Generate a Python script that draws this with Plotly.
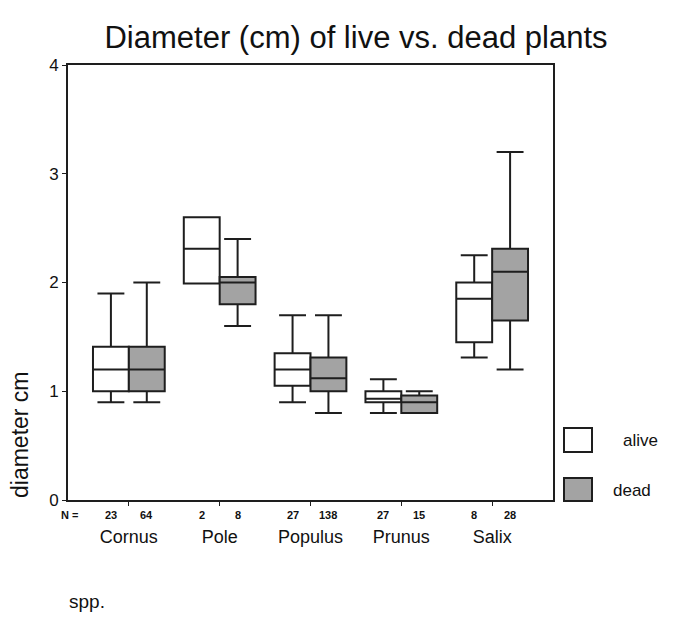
import plotly.graph_objects as go

categories = ["Cornus", "Pole", "Populus", "Prunus", "Salix"]

alive_low = [0.90, 1.99, 0.90, 0.80, 1.31]
alive_q1 = [1.00, 1.99, 1.05, 0.90, 1.45]
alive_med = [1.20, 2.31, 1.20, 0.93, 1.85]
alive_q3 = [1.41, 2.60, 1.35, 1.00, 2.00]
alive_high = [1.90, 2.60, 1.70, 1.11, 2.25]
alive_n = [23, 2, 27, 27, 8]

dead_low = [0.90, 1.60, 0.80, 0.80, 1.20]
dead_q1 = [1.00, 1.80, 1.00, 0.80, 1.65]
dead_med = [1.20, 2.00, 1.12, 0.90, 2.10]
dead_q3 = [1.41, 2.05, 1.31, 0.96, 2.31]
dead_high = [2.00, 2.40, 1.70, 1.00, 3.20]
dead_n = [64, 8, 138, 15, 28]

y_ticks = [0, 1, 2, 3, 4]

FONT = "Liberation Sans, Arial, sans-serif"
LINE = "#1e1e1e"
GREY = "#a3a3a3"

# page body has an 8px margin; plot area spans page x 68..553, y 65..500
PX0, PX1, PY0, PY1 = 68, 553, 65, 500


def px(X):
    return (X - PX0) / (PX1 - PX0)


def py(Y):
    return (PY1 - Y) / (PY1 - PY0)


fig = go.Figure()
fig.add_trace(go.Box(
    name="alive", x=categories, q1=alive_q1, median=alive_med, q3=alive_q3,
    lowerfence=alive_low, upperfence=alive_high,
    fillcolor="white", line=dict(color=LINE, width=2), whiskerwidth=0.75,
    boxpoints=False, showlegend=False, offsetgroup="a",
))
fig.add_trace(go.Box(
    name="dead", x=categories, q1=dead_q1, median=dead_med, q3=dead_q3,
    lowerfence=dead_low, upperfence=dead_high,
    fillcolor=GREY, line=dict(color=LINE, width=2), whiskerwidth=0.75,
    boxpoints=False, showlegend=False, offsetgroup="d",
))

annotations = []
off = 0.1975
for i in range(len(categories)):
    for dx, n in ((-off, alive_n[i]), (off, dead_n[i])):
        annotations.append(dict(
            x=i + dx, y=0, xref="x", yref="paper", yshift=-15,
            xanchor="center", yanchor="middle",
            text=f"<b>{n}</b>", showarrow=False,
            font=dict(family=FONT, size=11, color="#111"),
        ))
annotations.append(dict(
    x=px(69), y=0, xref="paper", yref="paper", yshift=-15,
    xanchor="center", yanchor="middle",
    text="<b>N =</b>", showarrow=False, font=dict(family=FONT, size=11, color="#111"),
))
annotations.append(dict(
    x=px(20), y=py(435), xref="paper", yref="paper", showarrow=False,
    xanchor="center", yanchor="middle",
    text="diameter cm", textangle=-90,
    font=dict(family=FONT, size=23, color="#111"),
))
annotations.append(dict(
    x=px(87), y=py(601), xref="paper", yref="paper",
    xanchor="center", yanchor="middle",
    showarrow=False, text="spp.", font=dict(family=FONT, size=19, color="#111"),
))
annotations.append(dict(
    x=px(640), y=py(440), xref="paper", yref="paper",
    xanchor="center", yanchor="middle",
    showarrow=False, text="alive", font=dict(family=FONT, size=17, color="#111"),
))
annotations.append(dict(
    x=px(632), y=py(490), xref="paper", yref="paper",
    xanchor="center", yanchor="middle",
    showarrow=False, text="dead", font=dict(family=FONT, size=17, color="#111"),
))


def px_rect(x0, y0, x1, y1, fill):
    return dict(
        type="rect", xref="paper", yref="paper",
        x0=px(x0), x1=px(x1), y0=py(y0), y1=py(y1),
        line=dict(color=LINE, width=2), fillcolor=fill,
    )


shapes = [px_rect(564, 428, 592, 452, "white"), px_rect(564, 478, 592, 501, GREY)]

W, H = 668, 609
fig.update_layout(
    width=W, height=H,
    margin=dict(l=PX0 - 8, r=W - (PX1 - 8), t=PY0 - 8, b=H - (PY1 - 8)),
    paper_bgcolor="white", plot_bgcolor="white",
    boxmode="group", boxgap=0.21, boxgroupgap=0,
    title=dict(text="Diameter (cm) of live vs. dead plants", x=(356 - 8) / W, xref="container",
               xanchor="center", y=1 - (37 - 8) / H, yref="container", yanchor="middle",
               font=dict(family=FONT, size=31, color="#111")),
    xaxis=dict(
        type="category", categoryorder="array", categoryarray=categories,
        range=[-0.67, 4.67], showgrid=False, zeroline=False,
        showline=True, linecolor=LINE, linewidth=2, mirror=True,
        ticks="outside", ticklen=4, tickcolor=LINE, tickwidth=1,
        ticklabelstandoff=15,
        tickfont=dict(family=FONT, size=18, color="#111"),
    ),
    yaxis=dict(
        range=[0, 4], tickvals=y_ticks, showgrid=False, zeroline=False,
        showline=True, linecolor=LINE, linewidth=2, mirror=True,
        ticks="outside", ticklen=4, tickcolor=LINE, tickwidth=1,
        tickfont=dict(family="Liberation Sans, Arial, sans-serif", size=17, color="#111"),
    ),
    annotations=annotations, shapes=shapes,
)

fig.write_html("out.html")
